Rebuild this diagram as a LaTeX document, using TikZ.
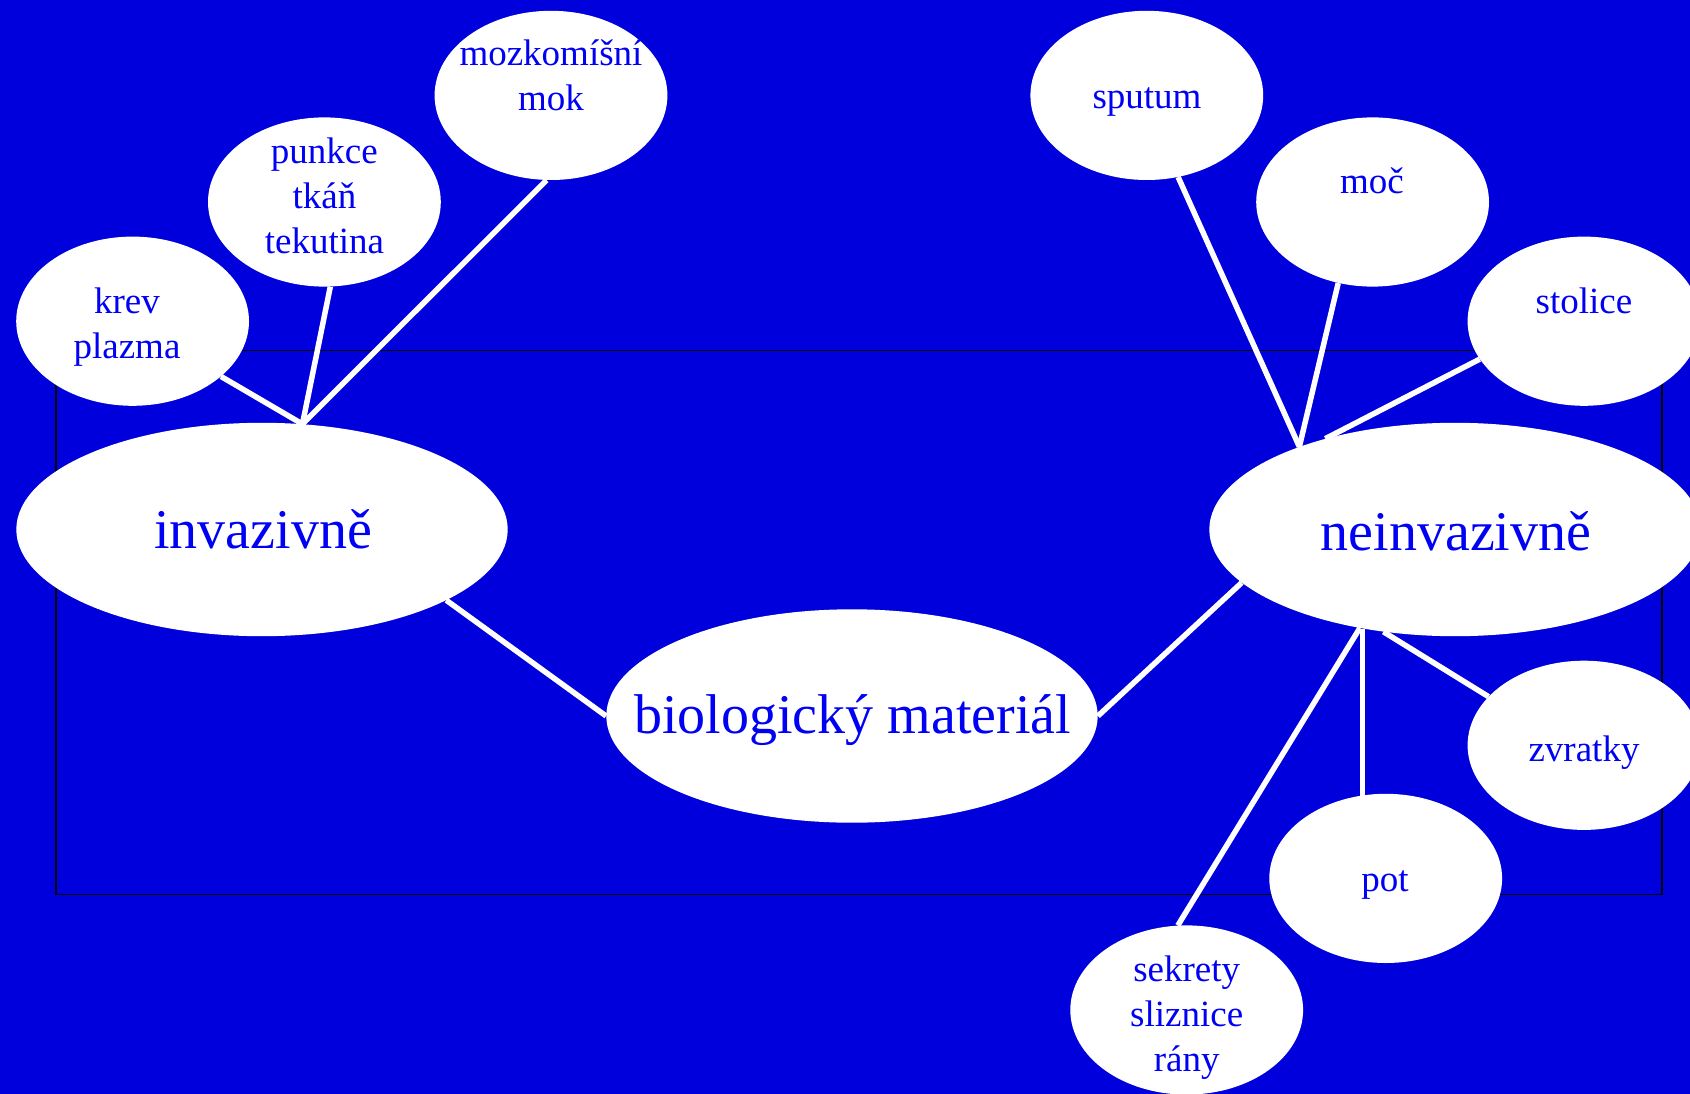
\documentclass[tikz,border=0pt]{standalone}
\usepackage{fontspec}
\setmainfont{Liberation Serif}
\usetikzlibrary{shapes.geometric}
\definecolor{bgblue}{RGB}{0,0,220}
\definecolor{txtblue}{RGB}{0,0,245}
\pgfdeclarelayer{bglayer}
\pgfdeclarelayer{linklayer}
\pgfsetlayers{bglayer,linklayer,main}
\begin{document}
\begin{tikzpicture}[x=1pt,y=-1pt,
  sat/.style={ellipse, fill=white, minimum width=232.8pt, minimum height=169.2pt, inner sep=0pt},
  hub/.style={ellipse, fill=white, minimum width=491.4pt, minimum height=213.4pt, inner sep=0pt},
  stxt/.style={text=txtblue, font=\fontsize{37}{45}\selectfont, align=center, inner sep=0pt},
  htxt/.style={text=txtblue, font=\fontsize{56}{67}\selectfont, inner sep=0pt},
  link/.style={draw=white, line width=5.5pt}]
\begin{pgfonlayer}{bglayer}
  \fill[bgblue] (0,0) rectangle (1690,1094);
  \draw[black, line width=1.2pt] (56,350.5) rectangle (1662,894.6);
\end{pgfonlayer}
\useasboundingbox (0,0) rectangle (1690,1094);

% ellipses
\node[sat] (mozko) at (551,95.4) {};
\node[sat] (punkce) at (324.4,202) {};
\node[sat] (krev) at (132.6,321.2) {};
\node[hub] (inv) at (262,529.5) {};
\node[hub] (bio) at (852,716) {};
\node[hub] (neinv) at (1455,529.5) {};
\node[sat] (sputum) at (1146.8,95.4) {};
\node[sat] (moc) at (1372.6,202) {};
\node[sat] (stolice) at (1584,321.2) {};
\node[sat] (zvratky) at (1584,745.3) {};
\node[sat] (pot) at (1385.7,878.4) {};
\node[sat] (sekrety) at (1186.7,1010) {};

% texts
\node[stxt] (tmozko) at (551,75.4) {mozkomíšní\\mok};
\node[stxt] (tpunkce) at (324.4,196) {punkce\\tkáň\\tekutina};
\node[stxt] (tkrev) at (127,327.6) {krev\\plazma};
\node[htxt] (tinv) at (263,529) {invazivně};
\node[htxt] (tbio) at (852.5,720) {biologický materiál};
\node[htxt] (tneinv) at (1456,531) {neinvazivně};
\node[stxt] (tsputum) at (1147,102.3) {sputum};
\node[stxt] (tmoc) at (1372,181) {moč};
\node[stxt] (tstolice) at (1584,301) {stolice};
\node[stxt] (tzvratky) at (1584,752.3) {zvratky};
\node[stxt] (tpot) at (1385,885) {pot};
\node[stxt] (tsekrety) at (1186.7,1017.3) {sekrety\\sliznice\\rány};

% connectors
\begin{pgfonlayer}{linklayer}
  \draw[link] (krev.-32.6) -- (inv.69);
  \draw[link] (punkce.-86.9) -- (inv.69);
  \draw[link] (mozko.-93.7) -- (inv.69);
  \draw[link] (inv.-21) -- (bio.180);
  \draw[link] (bio.0) -- (neinv.-166);
  \draw[link] (sputum.-69.1) -- (neinv.152);
  \draw[link] (moc.-113.7) -- (neinv.152);
  \draw[link] (stolice.-160) -- (neinv.145);
  \draw[link] (zvratky.153) -- (neinv.-125);
  \draw[link] (neinv.-133) -- (neinv.-133 |- pot.center);
  \draw[link] (sekrety.96) -- (neinv.-134);
\end{pgfonlayer}
\end{tikzpicture}
\end{document}
